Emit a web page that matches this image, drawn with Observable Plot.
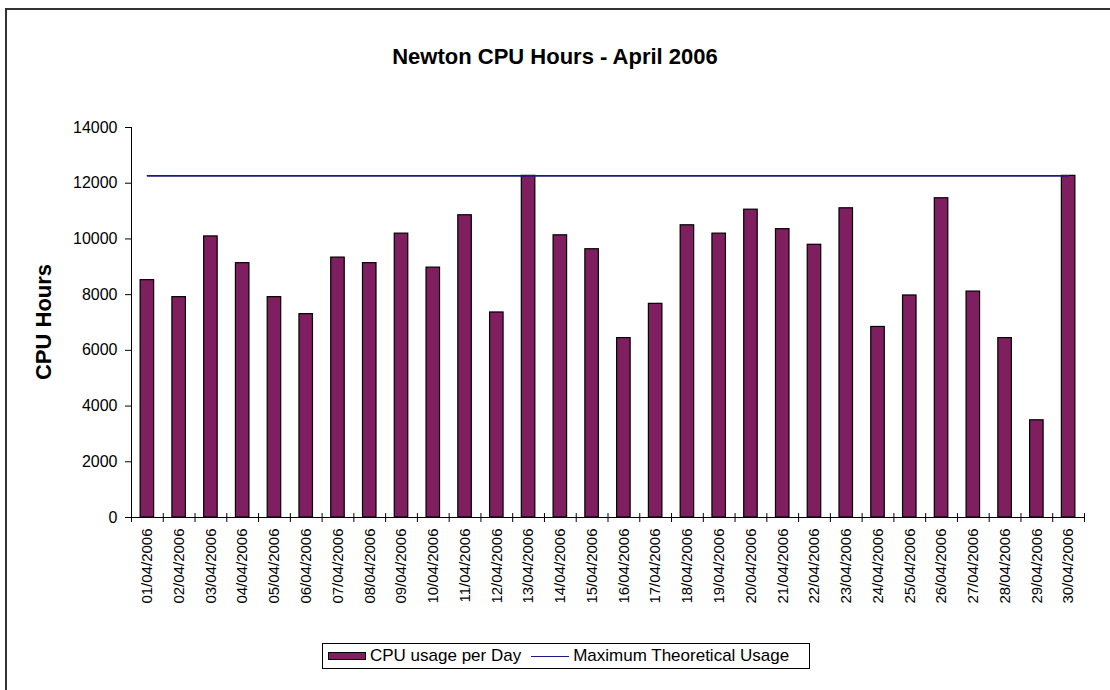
<!DOCTYPE html>
<html>
<head>
<meta charset="utf-8">
<script src="https://cdn.jsdelivr.net/npm/d3@7"></script>
<script src="https://cdn.jsdelivr.net/npm/@observablehq/plot@0.6"></script>
<style>
  html, body { margin: 0; padding: 0; background: #fff; }
  body { position: relative; width: 1110px; height: 690px; overflow: hidden; font-family: Arial, "Liberation Sans", sans-serif; }
  #topline { position: absolute; left: 5px; top: 8px; width: 1105px; height: 2px; background: #333; }
  #leftline { position: absolute; left: 5px; top: 8px; width: 2px; height: 682px; background: #333; }
  #cover { position: absolute; left: 1098px; top: 11px; width: 12px; height: 679px; background: #fff; z-index: 10; }
  #title { position: absolute; left: 0; width: 1110px; top: 44px; text-align: center; font-weight: bold; font-size: 22px; color: #000; }
  #ylabel { position: absolute; left: 44px; top: 322px; transform: translate(-50%, -50%) rotate(-90deg); font-weight: bold; font-size: 22px; white-space: nowrap; color: #000; }
  #chart { position: absolute; left: 0; top: 100px; }
  #legend { position: absolute; left: 322px; top: 643px; width: 488px; height: 26px; border: 1px solid #000; box-sizing: border-box; display: flex; align-items: center; font-size: 17px; color: #000; white-space: nowrap; }
  .sw { display: inline-block; width: 36px; height: 6px; background: #7f1f5f; border: 1px solid #000; margin-left: 5px; margin-right: 4px; }
  .ln { display: inline-block; width: 38px; height: 0; border-top: 1.5px solid #1a1a80; margin-left: 10px; margin-right: 4px; }
</style>
</head>
<body>
<div id="topline"></div>
<div id="leftline"></div>
<div id="title">Newton CPU Hours - April 2006</div>
<div id="ylabel">CPU Hours</div>
<div id="chart"></div>
<div id="legend"></div>
<div id="cover"></div>
<script>
const days = ["01/04/2006","02/04/2006","03/04/2006","04/04/2006","05/04/2006","06/04/2006","07/04/2006","08/04/2006","09/04/2006","10/04/2006","11/04/2006","12/04/2006","13/04/2006","14/04/2006","15/04/2006","16/04/2006","17/04/2006","18/04/2006","19/04/2006","20/04/2006","21/04/2006","22/04/2006","23/04/2006","24/04/2006","25/04/2006","26/04/2006","27/04/2006","28/04/2006","29/04/2006","30/04/2006"];
const cpuHours = [8520,7910,10090,9130,7910,7300,9330,9130,10190,8970,10850,7360,12264,10130,9630,6440,7670,10490,10190,11050,10350,9790,11100,6840,7970,11460,8110,6440,3490,12264];
const maxUsage = 12264;
const yTicks = [0,2000,4000,6000,8000,10000,12000,14000];
const seriesNames = ["CPU usage per Day", "Maximum Theoretical Usage"];

const table = days.map((d, i) => ({day: d, cpu: cpuHours[i], max: maxUsage}));

const W = 1110, H = 530, mL = 131, mR = 26, mT = 27, mB = 113;
const step = (W - mL - mR) / days.length;
const barInset = (step - 13.5) / 2;

const chart = Plot.plot({
  width: W, height: H,
  marginLeft: mL, marginRight: mR, marginTop: mT, marginBottom: mB,
  style: {fontFamily: 'Arial, "Liberation Sans", sans-serif', color: "#000", background: "transparent"},
  x: {domain: days, type: "band", padding: 0, round: false, axis: null},
  y: {domain: [0, 14000], axis: null},
  marks: [
    Plot.barY(table, {x: "day", y: "cpu", fill: "#7f1f5f", stroke: "#000", strokeWidth: 1.2, insetLeft: barInset, insetRight: barInset}),
    Plot.lineY(table, {x: "day", y: "max", stroke: "#1a1a80", strokeWidth: 1.6}),
    Plot.ruleY([0], {stroke: "#000", strokeWidth: 1}),
    Plot.ruleX([days[0]], {x: d => d, y1: 0, y2: 14000, dx: -step / 2, stroke: "#000", strokeWidth: 1}),
    Plot.ruleX(days, {x: d => d, y1: 0, y2: 0, insetTop: -4, insetBottom: -5, dx: -step / 2, stroke: "#000"}),
    Plot.ruleX([days[days.length - 1]], {x: d => d, y1: 0, y2: 0, insetTop: -4, insetBottom: -5, dx: step / 2, stroke: "#000"}),
    Plot.axisY({ticks: yTicks, tickSize: 6, tickPadding: 8, fontSize: 16, tickFormat: d => String(d), label: null}),
    Plot.axisX({tickRotate: -90, tickSize: 0, tickPadding: 11, fontSize: 15, label: null})
  ]
});
document.getElementById("chart").appendChild(chart);

const lg = document.getElementById("legend");
lg.innerHTML = '<span class="sw"></span><span>' + seriesNames[0] + '</span><span class="ln"></span><span>' + seriesNames[1] + '</span>';
</script>
</body>
</html>
